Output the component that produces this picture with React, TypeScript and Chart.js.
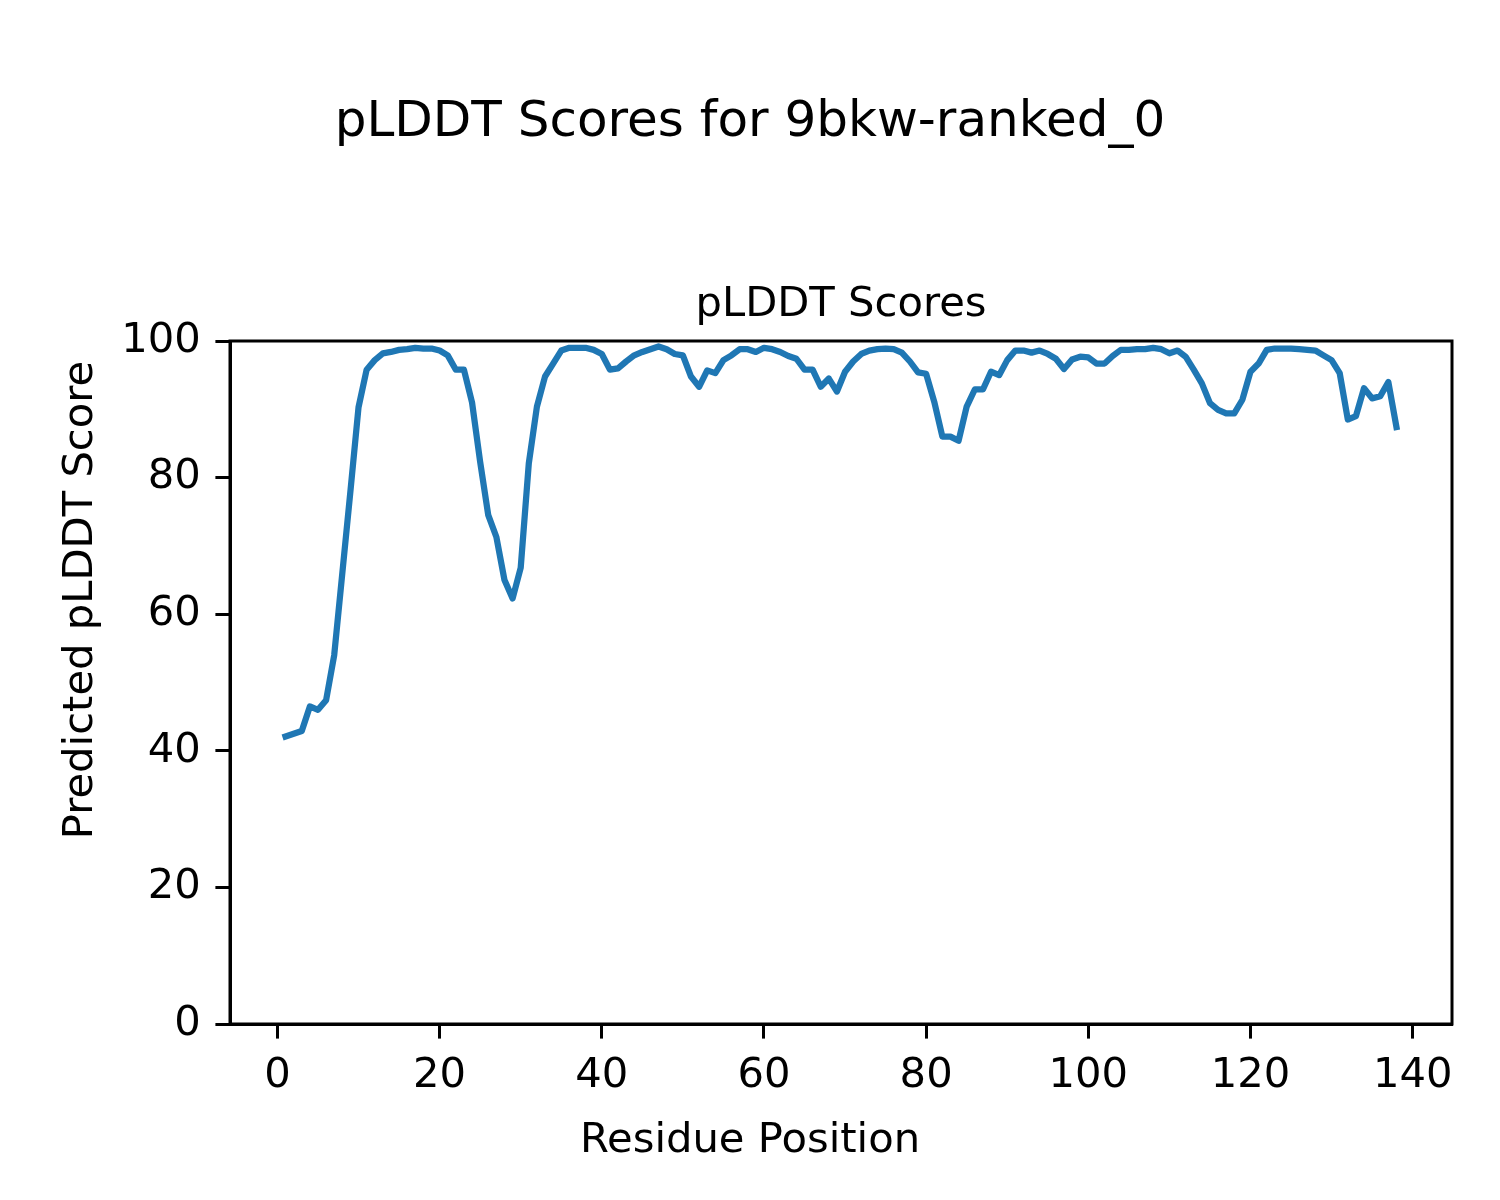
import React, { useEffect, useRef } from "react";
import { Chart, registerables } from "chart.js";

Chart.register(...registerables);

const chartTitle = "pLDDT Scores for 9bkw-ranked_0";
const axesTitle = "pLDDT Scores";
const xLabel = "Residue Position";
const yLabel = "Predicted pLDDT Score";

const residueStart = 1;
const plddtScores = [
  42.1, 42.5, 42.9, 46.5, 46.0, 47.4, 54.0, 66.0, 78.0, 90.3,
  95.8, 97.2, 98.2, 98.4, 98.7, 98.8, 99.0, 98.9, 98.9, 98.6,
  97.9, 95.8, 95.8, 91.0, 82.3, 74.5, 71.3, 65.0, 62.3, 66.8,
  82.1, 90.4, 94.8, 96.7, 98.6, 99.0, 99.0, 99.0, 98.7, 98.1,
  95.8, 96.0, 97.0, 97.9, 98.4, 98.8, 99.2, 98.8, 98.1, 97.9,
  94.8, 93.3, 95.7, 95.3, 97.2, 97.9, 98.8, 98.8, 98.4, 99.0,
  98.8, 98.4, 97.8, 97.4, 95.8, 95.8, 93.3, 94.5, 92.6, 95.5,
  97.0, 98.1, 98.6, 98.8, 98.9, 98.8, 98.3, 97.0, 95.4, 95.2,
  91.1, 86.0, 86.0, 85.4, 90.4, 92.9, 92.9, 95.5, 95.0, 97.2,
  98.6, 98.6, 98.3, 98.6, 98.1, 97.4, 95.9, 97.3, 97.7, 97.6,
  96.7, 96.7, 97.8, 98.7, 98.7, 98.8, 98.8, 99.0, 98.8, 98.2,
  98.6, 97.7, 95.8, 93.8, 90.9, 89.9, 89.4, 89.4, 91.4, 95.5,
  96.7, 98.7, 98.9, 98.9, 98.9, 98.8, 98.7, 98.6, 97.9, 97.2,
  95.3, 88.5, 89.0, 93.1, 91.6, 91.9, 94.0, 87.4,
];

const xTickStep = 20;
const yTickStep = 20;
const yMin = 0;
const yMax = 100;

const FONT = "'DejaVu Sans', sans-serif";

export default function App() {
  const canvasRef = useRef<HTMLCanvasElement | null>(null);

  useEffect(() => {
    const canvas = canvasRef.current;
    if (!canvas) return;

    const points = plddtScores.map((v, i) => ({ x: residueStart + i, y: v }));
    const xFirst = residueStart;
    const xLast = residueStart + plddtScores.length - 1;
    const margin = (xLast - xFirst) * 0.05;

    const textPlugin = {
      id: "figureText",
      afterDraw(chart: any) {
        const { ctx, chartArea } = chart;
        ctx.save();
        // spines
        ctx.strokeStyle = "#000";
        ctx.lineWidth = 3;
        ctx.strokeRect(
          chartArea.left,
          chartArea.top,
          chartArea.right - chartArea.left,
          chartArea.bottom - chartArea.top
        );
        ctx.fillStyle = "#000";
        ctx.textBaseline = "alphabetic";
        ctx.textAlign = "center";
        ctx.font = `50px ${FONT}`;
        ctx.fillText(chartTitle, 750, 136);
        ctx.font = `41.7px ${FONT}`;
        ctx.fillText(axesTitle, (chartArea.left + chartArea.right) / 2, chartArea.top - 25);
        ctx.fillText(xLabel, 750, 1152);
        ctx.translate(92, 600);
        ctx.rotate(-Math.PI / 2);
        ctx.fillText(yLabel, 0, 0);
        ctx.restore();
      },
    };

    const chart = new Chart(canvas, {
      type: "line",
      data: {
        datasets: [
          {
            data: points,
            borderColor: "#1f77b4",
            borderWidth: 6.25,
            pointRadius: 0,
            borderJoinStyle: "round",
            borderCapStyle: "square",
            tension: 0,
            fill: false,
          },
        ],
      },
      options: {
        animation: false,
        responsive: false,
        devicePixelRatio: 1,
        layout: { padding: { top: 341, left: 0, right: 48, bottom: 0 } },
        plugins: {
          legend: { display: false },
          tooltip: { enabled: false },
          title: { display: false },
        },
        scales: {
          x: {
            type: "linear",
            min: xFirst - margin,
            max: xLast + margin,
            afterFit(scale: any) {
              scale.height = 176;
            },
            border: { display: true, color: "#000", width: 3 },
            grid: {
              drawOnChartArea: false,
              drawTicks: true,
              tickLength: 14.6,
              tickColor: "#000",
              tickWidth: 3,
            },
            ticks: {
              stepSize: xTickStep,
              includeBounds: false,
              color: "#000",
              padding: 13,
              maxRotation: 0,
              font: { family: FONT, size: 41.7 },
            },
          },
          y: {
            type: "linear",
            min: yMin,
            max: yMax,
            afterFit(scale: any) {
              scale.width = 230;
            },
            border: { display: true, color: "#000", width: 3 },
            grid: {
              drawOnChartArea: false,
              drawTicks: true,
              tickLength: 14.6,
              tickColor: "#000",
              tickWidth: 3,
            },
            ticks: {
              stepSize: yTickStep,
              color: "#000",
              padding: 14.6,
              font: { family: FONT, size: 41.7 },
            },
          },
        },
      },
      plugins: [textPlugin],
    } as any);

    return () => chart.destroy();
  }, []);

  return (
    <div style={{ position: "absolute", left: 0, top: 0, width: 1500, height: 1200, background: "#fff" }}>
      <canvas ref={canvasRef} width={1500} height={1200} style={{ width: 1500, height: 1200, display: "block" }} />
    </div>
  );
}
